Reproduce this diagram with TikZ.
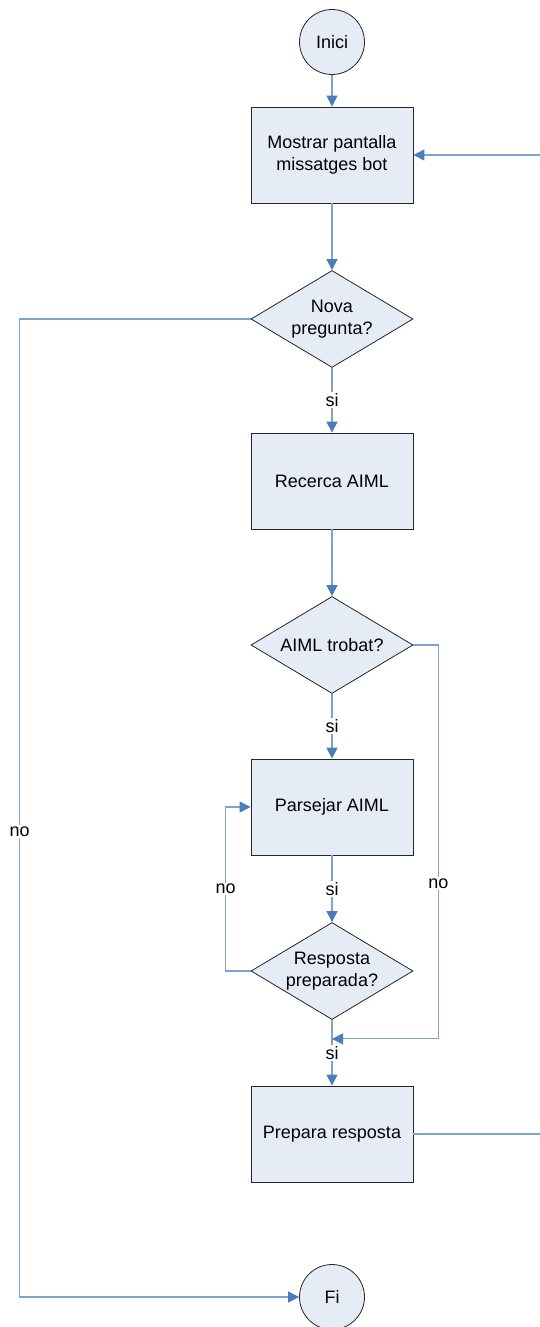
\documentclass[tikz,border=0pt]{standalone}
\usepackage{fontspec}
\setmainfont{Liberation Sans}
\usetikzlibrary{positioning,shapes.geometric,arrows.meta}
\definecolor{boxfill}{RGB}{230,236,246}
\definecolor{linkblue}{RGB}{125,163,210}
\definecolor{tipblue}{RGB}{74,126,187}

\begin{document}
\begin{tikzpicture}[x=1pt, y=1pt, ->, >={Triangle[length=11pt,width=11pt,color=tipblue]}, node distance=163pt, font=\fontsize{18}{21.5}\selectfont,
  link/.style={draw=linkblue, line width=1.1pt},
  term_node/.style={circle, draw=black!85, line width=0.8pt, fill=boxfill, minimum size=65pt, inner sep=0pt},
  proc_node/.style={rectangle, draw=black!85, line width=0.8pt, fill=boxfill, minimum width=162pt, minimum height=96pt, align=center},
  dec_node/.style={diamond, draw=black!85, line width=0.8pt, fill=boxfill, minimum width=162pt, minimum height=97pt, aspect=1.67, inner sep=0pt, align=center},
  lbl_node/.style={fill=white, inner sep=1.5pt}]

  \useasboundingbox (0,0) rectangle (540,-1327);

  \node[term_node] (1) at (332,-42) {Inici};
  \node[proc_node] (2) [below of=1, node distance=113pt] {Mostrar pantalla\\missatges bot};
  \node[dec_node] (3) [below of=2, node distance=164pt] {Nova\\pregunta?};
  \node[proc_node] (4) [below of=3, node distance=162pt] {Recerca AIML};
  \node[dec_node] (5) [below of=4, node distance=164pt] {AIML trobat?};
  \node[proc_node] (6) [below of=5, node distance=162pt] {Parsejar AIML};
  \node[dec_node] (7) [below of=6, node distance=164pt] {Resposta\\preparada?};
  \node[proc_node] (8) [below of=7] {Prepara resposta};
  \node[term_node] (9) [below of=8] {Fi};

%   loose ends at the right border and the join below (7)
  \coordinate (r1) at ([xshift=127pt]2.east);
  \coordinate (r2) at ([xshift=127pt]8.east);
  \coordinate (m) at ([yshift=-19pt]7.south);

  \path[every edge/.append style={link}]
    (1) edge (2)
    (2) edge (3)
    (3) edge node[lbl_node] {si} (4)
    (4) edge (5)
    (5) edge node[lbl_node] {si} (6)
    (6) edge node[lbl_node] {si} (7)
    (7) edge node[lbl_node] {si} (8)
    (r1) edge (2);

  \draw[link] (3.west) -- ++(-231,0) |- node[lbl_node, pos=0.262] {no} (9);
  \draw[link] (5.east) -- ++(25,0) |- node[lbl_node, pos=0.303] {no} (m);
  \draw[link] (7.west) -- ++(-25,0) |- node[lbl_node, pos=0.25] {no} (6);
  \draw[link, -] (8) -- (r2);
\end{tikzpicture}
\end{document}
